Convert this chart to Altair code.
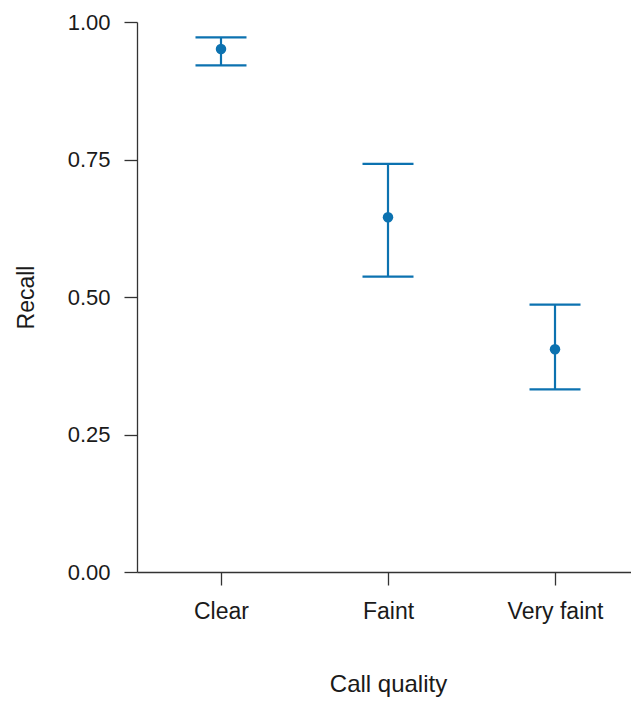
import altair as alt
import pandas as pd

categories = ["Clear", "Faint", "Very faint"]
recall = [0.951, 0.645, 0.405]
lower = [0.921, 0.537, 0.332]
upper = [0.972, 0.742, 0.486]

df = pd.DataFrame({"quality": categories, "recall": recall, "lower": lower, "upper": upper})

BLUE = "#0C72B0"
FONT = "Liberation Sans"

x_enc = alt.X(
    "quality:N",
    sort=categories,
    scale=alt.Scale(type="point", padding=0.479, align=0.525),
    axis=alt.Axis(
        title="Call quality",
        labelAngle=0,
        labelFontSize=23,
        labelFont=FONT,
        labelColor="#1a1a1a",
        tickSize=13,
        labelPadding=15,
        titleFont=FONT,
        titleFontSize=24,
        titleFontWeight="normal",
        titleColor="#1a1a1a",
        titleX=251,
        titleY=119.5,
        titleBaseline="alphabetic",
        titleAlign="center",
        domainColor="#333333",
        tickColor="#333333",
        domainWidth=1.3,
        tickWidth=1.3,
    ),
)

y_axis = alt.Axis(
    title="Recall",
    values=[0, 0.25, 0.5, 0.75, 1.0],
    format=".2f",
    labelFontSize=22,
    labelFont=FONT,
    labelColor="#1a1a1a",
    tickSize=13,
    labelPadding=14,
    titleFont=FONT,
    titleFontSize=23,
    titleFontWeight="normal",
    titleColor="#1a1a1a",
    titleAngle=270,
    titleX=-104,
    titleY=275,
    titleBaseline="alphabetic",
    titleAlign="center",
    domainColor="#333333",
    tickColor="#333333",
    domainWidth=1.3,
    tickWidth=1.3,
)
y_scale = alt.Scale(domain=[0, 1], nice=False, zero=True)

base = alt.Chart(df)

rule = base.mark_rule(color=BLUE, strokeWidth=2.2, opacity=1).encode(
    x=x_enc,
    y=alt.Y("lower:Q", scale=y_scale, axis=y_axis),
    y2="upper:Q",
)
cap_lo = base.mark_tick(color=BLUE, size=51, thickness=2.2, opacity=1).encode(
    x=x_enc, y=alt.Y("lower:Q", scale=y_scale, axis=y_axis)
)
cap_hi = base.mark_tick(color=BLUE, size=51, thickness=2.2, opacity=1).encode(
    x=x_enc, y=alt.Y("upper:Q", scale=y_scale, axis=y_axis)
)
pts = base.mark_point(color=BLUE, filled=True, opacity=1, size=110).encode(
    x=x_enc, y=alt.Y("recall:Q", scale=y_scale, axis=y_axis)
)

chart = (
    alt.layer(rule, cap_lo, cap_hi, pts)
    .properties(
        width=494,
        height=550,
        autosize=alt.AutoSizeParams(type="none"),
        padding={"left": 137, "top": 22, "right": 0, "bottom": 130},
        background="white",
    )
    .configure_view(stroke=None)
    .configure_axis(grid=False)
)

chart.save("out.html", embed_options={"renderer": "svg", "actions": False})
